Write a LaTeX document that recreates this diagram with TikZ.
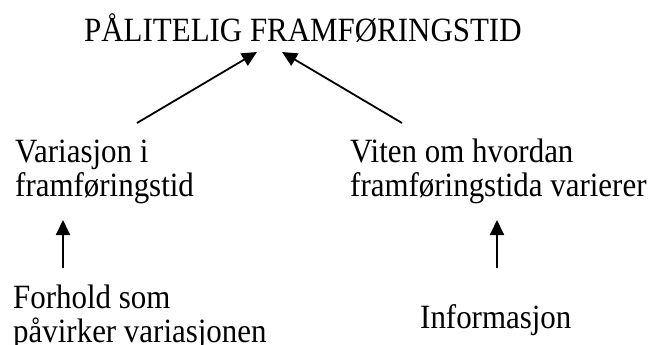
\documentclass[tikz,border=0pt]{standalone}
\usepackage{fontspec}
\setmainfont{Liberation Serif}[FakeStretch=0.91]
\usetikzlibrary{arrows.meta}
\tikzset{
  txt/.style={anchor=base west, inner sep=0pt, font=\fontsize{34}{35}\selectfont},
  arr/.style={line width=1.8pt, -{Triangle[length=15pt,width=14pt]}}
}
\begin{document}
\begin{tikzpicture}[x=1pt,y=1pt]
\useasboundingbox (0,0) rectangle (657,-345);
\node[txt] (title) at (84,-42) {PÅLITELIG FRAMFØRINGSTID};
\node[txt] (var) at (15,-162) {\begin{tabular}[t]{@{}l@{}}Variasjon i\\framføringstid\end{tabular}};
\node[txt] (viten) at (350,-162) {\begin{tabular}[t]{@{}l@{}}Viten om hvordan\\framføringstida varierer\end{tabular}};
\node[txt,font=\fontsize{34}{33}\selectfont] (forhold) at (13,-308) {\begin{tabular}[t]{@{}l@{}}Forhold som\\påvirker variasjonen\end{tabular}};
\node[txt] (info) at (420,-328) {Informasjon};
\draw[arr] ([shift={(122,39)}]var.base west) -- ([shift={(173,-10)}]title.base west);
\draw[arr] ([shift={(52,39)}]viten.base west) -- ([shift={(198,-10)}]title.base west);
\draw[arr] ([shift={(50,40)}]forhold.base west) -- ([shift={(48,-58)}]var.base west);
\draw[arr] ([shift={(77,60)}]info.base west) -- ([shift={(147,-58)}]viten.base west);
\end{tikzpicture}
\end{document}
